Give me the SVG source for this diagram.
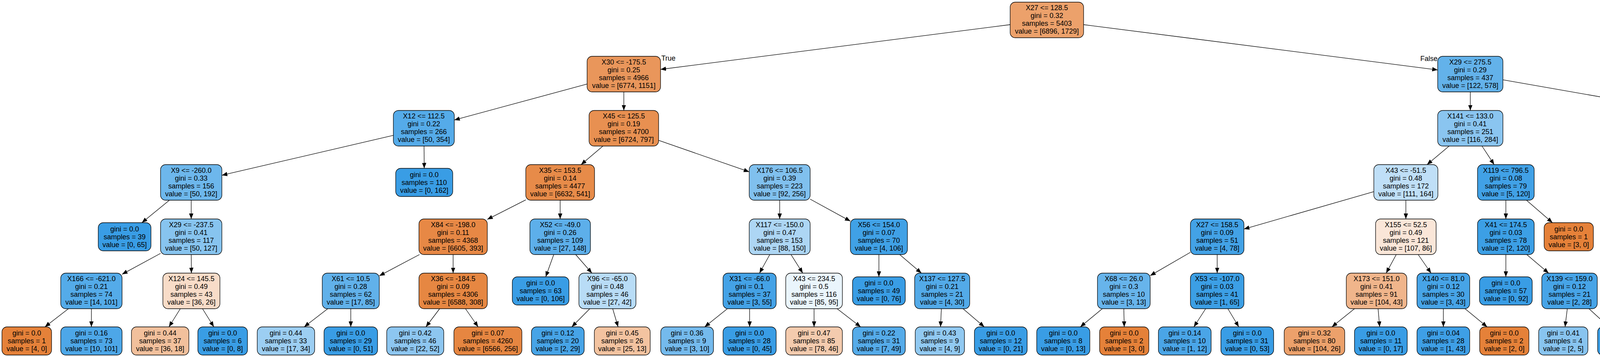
<svg xmlns="http://www.w3.org/2000/svg" width="5017" height="913" viewBox="0 0 5017 913">
<style>
.n rect{stroke:#000;stroke-width:1.3}
.t{font-family:"Liberation Sans",Arial,Helvetica,sans-serif;font-size:18px;text-anchor:middle;fill:#000}
.lbl{font-family:"Liberation Sans",Arial,Helvetica,sans-serif;font-size:18px;fill:#000}
#edges line{stroke:#000;stroke-width:1.3;fill:none}
</style>
<defs>
<marker id="arr" markerUnits="userSpaceOnUse" markerWidth="14" markerHeight="11" refX="14" refY="5.5" orient="auto"><path d="M0,0 L14,5.5 L0,11 z" fill="#000"/></marker>
</defs>
<rect width="5017" height="913" fill="#fff"/>
<g id="edges" marker-end="url(#arr)">
<line x1="2586" y1="63" x2="1691" y2="177.5"/>
<line x1="2774" y1="63" x2="3680.5" y2="178.8"/>
<line x1="1503" y1="214.9" x2="1163" y2="306.9"/>
<line x1="1597" y1="235" x2="1597" y2="282.5"/>
<line x1="1007" y1="346.1" x2="568" y2="448.2"/>
<line x1="1085.5" y1="373.5" x2="1086" y2="430.5"/>
<line x1="1543.5" y1="373.5" x2="1487.5" y2="421"/>
<line x1="1686" y1="358.9" x2="1918" y2="439.4"/>
<line x1="433.7" y1="512" x2="363.2" y2="569.5"/>
<line x1="489.5" y1="512" x2="489.5" y2="560"/>
<line x1="411" y1="648" x2="312.5" y2="701.4"/>
<line x1="489.5" y1="651" x2="490" y2="698.5"/>
<line x1="175.2" y1="789.5" x2="115" y2="836"/>
<line x1="234" y1="789.5" x2="234" y2="836"/>
<line x1="461.6" y1="789.5" x2="432.5" y2="836"/>
<line x1="518.4" y1="789.5" x2="547.5" y2="836"/>
<line x1="1346" y1="511.1" x2="1247.5" y2="561.1"/>
<line x1="1434" y1="512" x2="1434" y2="560"/>
<line x1="1073.9" y1="651" x2="971" y2="705.4"/>
<line x1="1160" y1="651" x2="1160" y2="698.5"/>
<line x1="1417.6" y1="651" x2="1397" y2="708"/>
<line x1="1473.7" y1="651" x2="1515.3" y2="698.5"/>
<line x1="839" y1="789.5" x2="778.7" y2="836"/>
<line x1="898" y1="789.5" x2="898" y2="836"/>
<line x1="1125.5" y1="789.5" x2="1090.3" y2="836"/>
<line x1="1191.6" y1="789.5" x2="1224" y2="836"/>
<line x1="1509.9" y1="789.5" x2="1463.7" y2="836"/>
<line x1="1568.5" y1="789.5" x2="1582.3" y2="836"/>
<line x1="1996" y1="512" x2="1996" y2="560"/>
<line x1="2074" y1="509.2" x2="2177" y2="565.6"/>
<line x1="1970.7" y1="651" x2="1944.3" y2="698.5"/>
<line x1="2024.9" y1="651" x2="2055.1" y2="698.5"/>
<line x1="2250" y1="651" x2="2250" y2="708"/>
<line x1="2303.2" y1="651" x2="2358.8" y2="698.5"/>
<line x1="1862.1" y1="789.5" x2="1804" y2="836"/>
<line x1="1919" y1="789.5" x2="1919" y2="836"/>
<line x1="2084" y1="789.5" x2="2084" y2="836"/>
<line x1="2143" y1="789.5" x2="2203.3" y2="836"/>
<line x1="2409.9" y1="789.5" x2="2407.7" y2="836"/>
<line x1="2465.3" y1="789.5" x2="2519.8" y2="836"/>
<line x1="3764" y1="235" x2="3764" y2="282.5"/>
<line x1="3847.5" y1="204.1" x2="4481.5" y2="315.1"/>
<line x1="3709.8" y1="373.5" x2="3653.2" y2="421"/>
<line x1="3793.9" y1="373.5" x2="3825.1" y2="421"/>
<line x1="3517" y1="490.1" x2="3184.5" y2="585.8"/>
<line x1="3599" y1="512" x2="3599" y2="560"/>
<line x1="3047.5" y1="645.2" x2="2944.5" y2="704.9"/>
<line x1="3116" y1="651" x2="3116" y2="698.5"/>
<line x1="2821.9" y1="789.5" x2="2765.6" y2="836"/>
<line x1="2877" y1="789.5" x2="2878" y2="836"/>
<line x1="3086.5" y1="789.5" x2="3056.3" y2="836"/>
<line x1="3143.4" y1="789.5" x2="3171.3" y2="836"/>
<line x1="3574.4" y1="651" x2="3548.6" y2="698.5"/>
<line x1="3630.5" y1="651" x2="3663.5" y2="698.5"/>
<line x1="3467.5" y1="789.5" x2="3409.7" y2="836"/>
<line x1="3527.9" y1="789.5" x2="3531.9" y2="836"/>
<line x1="3695" y1="789.5" x2="3695" y2="836"/>
<line x1="3750.5" y1="789.5" x2="3807.1" y2="836"/>
<line x1="3855" y1="512" x2="3855" y2="560"/>
<line x1="3907.7" y1="512" x2="3974.3" y2="569.5"/>
<line x1="3855" y1="651" x2="3855" y2="708"/>
<line x1="3908.5" y1="651" x2="3964.5" y2="698.5"/>
<line x1="4012.3" y1="789.5" x2="4006.5" y2="836"/>
<line x1="4067.8" y1="789.5" x2="4118.6" y2="836"/>
<line x1="4555" y1="373.5" x2="4555" y2="421"/>
<line x1="4628.5" y1="369.9" x2="4733" y2="429.5"/>
<line x1="4529.5" y1="512" x2="4502.5" y2="560"/>
<line x1="4583.5" y1="512" x2="4613.5" y2="560"/>
<line x1="4798" y1="512" x2="4798" y2="569.5"/>
<line x1="4847.4" y1="512" x2="4909.9" y2="569.5"/>
<line x1="4423.5" y1="651" x2="4367.5" y2="698.5"/>
<line x1="4478.3" y1="651" x2="4480" y2="708"/>
<line x1="4642" y1="651" x2="4642" y2="708"/>
<line x1="4693.2" y1="651" x2="4746.8" y2="698.5"/>
<line x1="4314" y1="789.5" x2="4314" y2="836"/>
<line x1="4369.5" y1="789.5" x2="4426.1" y2="836"/>
<line x1="4770.3" y1="789.5" x2="4741.9" y2="836"/>
<line x1="4825.7" y1="789.5" x2="4854.1" y2="836"/>
</g>
<text class="lbl" x="1693" y="155">True</text>
<text class="lbl" x="3680" y="156" text-anchor="end">False</text>

<g id="n0" class="n"><rect x="2586" y="5.5" width="188" height="91" rx="13" fill="#eca16b"/><text class="t" x="2680" y="26">X27 &lt;= 128.5<tspan x="2680" dy="20">gini = 0.32</tspan><tspan x="2680" dy="20">samples = 5403</tspan><tspan x="2680" dy="20">value = [6896, 1729]</tspan></text></g>
<g id="n1" class="n"><rect x="1503" y="144" width="188" height="91" rx="13" fill="#e9965b"/><text class="t" x="1597" y="164.5">X30 &lt;= -175.5<tspan x="1597" dy="20">gini = 0.25</tspan><tspan x="1597" dy="20">samples = 4966</tspan><tspan x="1597" dy="20">value = [6774, 1151]</tspan></text></g>
<g id="n2" class="n"><rect x="3680.5" y="144" width="167" height="91" rx="13" fill="#63b2ea"/><text class="t" x="3764" y="164.5">X29 &lt;= 275.5<tspan x="3764" dy="20">gini = 0.29</tspan><tspan x="3764" dy="20">samples = 437</tspan><tspan x="3764" dy="20">value = [122, 578]</tspan></text></g>
<g id="n3" class="n"><rect x="1007" y="282.5" width="156" height="91" rx="13" fill="#55abe9"/><text class="t" x="1085" y="303">X12 &lt;= 112.5<tspan x="1085" dy="20">gini = 0.22</tspan><tspan x="1085" dy="20">samples = 266</tspan><tspan x="1085" dy="20">value = [50, 354]</tspan></text></g>
<g id="n4" class="n"><rect x="1508" y="282.5" width="178" height="91" rx="13" fill="#e89051"/><text class="t" x="1597" y="303">X45 &lt;= 125.5<tspan x="1597" dy="20">gini = 0.19</tspan><tspan x="1597" dy="20">samples = 4700</tspan><tspan x="1597" dy="20">value = [6724, 797]</tspan></text></g>
<g id="n25" class="n"><rect x="3680.5" y="282.5" width="167" height="91" rx="13" fill="#8ac5f0"/><text class="t" x="3764" y="303">X141 &lt;= 133.0<tspan x="3764" dy="20">gini = 0.41</tspan><tspan x="3764" dy="20">samples = 251</tspan><tspan x="3764" dy="20">value = [116, 284]</tspan></text></g>
<g id="n26" class="n"><rect x="4481.5" y="282.5" width="147" height="91" rx="13" fill="#3d9fe6"/><text class="t" x="4555" y="303">X19 &lt;= 918.5<tspan x="4555" dy="20">gini = 0.04</tspan><tspan x="4555" dy="20">samples = 186</tspan><tspan x="4555" dy="20">value = [6, 294]</tspan></text></g>
<g id="n5" class="n"><rect x="411" y="421" width="157" height="91" rx="13" fill="#6db7ec"/><text class="t" x="489.5" y="441.5">X9 &lt;= -260.0<tspan x="489.5" dy="20">gini = 0.33</tspan><tspan x="489.5" dy="20">samples = 156</tspan><tspan x="489.5" dy="20">value = [50, 192]</tspan></text></g>
<g id="n6" class="n"><rect x="1013" y="430.5" width="146" height="72" rx="13" fill="#399de5"/><text class="t" x="1086" y="452.5">gini = 0.0<tspan x="1086" dy="20">samples = 110</tspan><tspan x="1086" dy="20">value = [0, 162]</tspan></text></g>
<g id="n7" class="n"><rect x="1346" y="421" width="176" height="91" rx="13" fill="#e78b49"/><text class="t" x="1434" y="441.5">X35 &lt;= 153.5<tspan x="1434" dy="20">gini = 0.14</tspan><tspan x="1434" dy="20">samples = 4477</tspan><tspan x="1434" dy="20">value = [6632, 541]</tspan></text></g>
<g id="n8" class="n"><rect x="1918" y="421" width="156" height="91" rx="13" fill="#80c0ee"/><text class="t" x="1996" y="441.5">X176 &lt;= 106.5<tspan x="1996" dy="20">gini = 0.39</tspan><tspan x="1996" dy="20">samples = 223</tspan><tspan x="1996" dy="20">value = [92, 256]</tspan></text></g>
<g id="n27" class="n"><rect x="3517" y="421" width="164" height="91" rx="13" fill="#bfdff7"/><text class="t" x="3599" y="441.5">X43 &lt;= -51.5<tspan x="3599" dy="20">gini = 0.48</tspan><tspan x="3599" dy="20">samples = 172</tspan><tspan x="3599" dy="20">value = [111, 164]</tspan></text></g>
<g id="n28" class="n"><rect x="3782.5" y="421" width="145" height="91" rx="13" fill="#41a1e6"/><text class="t" x="3855" y="441.5">X119 &lt;= 796.5<tspan x="3855" dy="20">gini = 0.08</tspan><tspan x="3855" dy="20">samples = 79</tspan><tspan x="3855" dy="20">value = [5, 120]</tspan></text></g>
<g id="n29" class="n"><rect x="4481.5" y="421" width="147" height="91" rx="13" fill="#3c9fe5"/><text class="t" x="4555" y="441.5">X22 &lt;= 467.5<tspan x="4555" dy="20">gini = 0.03</tspan><tspan x="4555" dy="20">samples = 184</tspan><tspan x="4555" dy="20">value = [5, 293]</tspan></text></g>
<g id="n30" class="n"><rect x="4733" y="421" width="130" height="91" rx="13" fill="#ffffff"/><text class="t" x="4798" y="441.5">X17 &lt;= 933.0<tspan x="4798" dy="20">gini = 0.5</tspan><tspan x="4798" dy="20">samples = 2</tspan><tspan x="4798" dy="20">value = [1, 1]</tspan></text></g>
<g id="n9" class="n"><rect x="251.5" y="569.5" width="135" height="72" rx="13" fill="#399de5"/><text class="t" x="319" y="591.5">gini = 0.0<tspan x="319" dy="20">samples = 39</tspan><tspan x="319" dy="20">value = [0, 65]</tspan></text></g>
<g id="n10" class="n"><rect x="411" y="560" width="157" height="91" rx="13" fill="#87c4ef"/><text class="t" x="489.5" y="580.5">X29 &lt;= -237.5<tspan x="489.5" dy="20">gini = 0.41</tspan><tspan x="489.5" dy="20">samples = 117</tspan><tspan x="489.5" dy="20">value = [50, 127]</tspan></text></g>
<g id="n11" class="n"><rect x="1072.5" y="560" width="175" height="91" rx="13" fill="#e78845"/><text class="t" x="1160" y="580.5">X84 &lt;= -198.0<tspan x="1160" dy="20">gini = 0.11</tspan><tspan x="1160" dy="20">samples = 4368</tspan><tspan x="1160" dy="20">value = [6605, 393]</tspan></text></g>
<g id="n12" class="n"><rect x="1356.5" y="560" width="155" height="91" rx="13" fill="#5dafea"/><text class="t" x="1434" y="580.5">X52 &lt;= -49.0<tspan x="1434" dy="20">gini = 0.26</tspan><tspan x="1434" dy="20">samples = 109</tspan><tspan x="1434" dy="20">value = [27, 148]</tspan></text></g>
<g id="n13" class="n"><rect x="1918" y="560" width="156" height="91" rx="13" fill="#add6f4"/><text class="t" x="1996" y="580.5">X117 &lt;= -150.0<tspan x="1996" dy="20">gini = 0.47</tspan><tspan x="1996" dy="20">samples = 153</tspan><tspan x="1996" dy="20">value = [88, 150]</tspan></text></g>
<g id="n14" class="n"><rect x="2177" y="560" width="146" height="91" rx="13" fill="#40a1e6"/><text class="t" x="2250" y="580.5">X56 &lt;= 154.0<tspan x="2250" dy="20">gini = 0.07</tspan><tspan x="2250" dy="20">samples = 70</tspan><tspan x="2250" dy="20">value = [4, 106]</tspan></text></g>
<g id="n31" class="n"><rect x="3047.5" y="560" width="137" height="91" rx="13" fill="#43a2e6"/><text class="t" x="3116" y="580.5">X27 &lt;= 158.5<tspan x="3116" dy="20">gini = 0.09</tspan><tspan x="3116" dy="20">samples = 51</tspan><tspan x="3116" dy="20">value = [4, 78]</tspan></text></g>
<g id="n32" class="n"><rect x="3521.5" y="560" width="155" height="91" rx="13" fill="#fae6d8"/><text class="t" x="3599" y="580.5">X155 &lt;= 52.5<tspan x="3599" dy="20">gini = 0.49</tspan><tspan x="3599" dy="20">samples = 121</tspan><tspan x="3599" dy="20">value = [107, 86]</tspan></text></g>
<g id="n33" class="n"><rect x="3782.5" y="560" width="145" height="91" rx="13" fill="#3c9fe5"/><text class="t" x="3855" y="580.5">X41 &lt;= 174.5<tspan x="3855" dy="20">gini = 0.03</tspan><tspan x="3855" dy="20">samples = 78</tspan><tspan x="3855" dy="20">value = [2, 120]</tspan></text></g>
<g id="n34" class="n"><rect x="3953" y="569.5" width="126" height="72" rx="13" fill="#e58139"/><text class="t" x="4016" y="591.5">gini = 0.0<tspan x="4016" dy="20">samples = 1</tspan><tspan x="4016" dy="20">value = [3, 0]</tspan></text></g>
<g id="n35" class="n"><rect x="4404" y="560" width="146" height="91" rx="13" fill="#3a9de5"/><text class="t" x="4477" y="580.5">X5 &lt;= -391.0<tspan x="4477" dy="20">gini = 0.01</tspan><tspan x="4477" dy="20">samples = 158</tspan><tspan x="4477" dy="20">value = [1, 257]</tspan></text></g>
<g id="n36" class="n"><rect x="4574" y="560" width="136" height="91" rx="13" fill="#4fa8e8"/><text class="t" x="4642" y="580.5">X23 &lt;= 467.0<tspan x="4642" dy="20">gini = 0.18</tspan><tspan x="4642" dy="20">samples = 26</tspan><tspan x="4642" dy="20">value = [4, 36]</tspan></text></g>
<g id="n37" class="n"><rect x="4735" y="569.5" width="126" height="72" rx="13" fill="#399de5"/><text class="t" x="4798" y="591.5">gini = 0.0<tspan x="4798" dy="20">samples = 1</tspan><tspan x="4798" dy="20">value = [0, 1]</tspan></text></g>
<g id="n38" class="n"><rect x="4886" y="569.5" width="126" height="72" rx="13" fill="#e58139"/><text class="t" x="4949" y="591.5">gini = 0.0<tspan x="4949" dy="20">samples = 1</tspan><tspan x="4949" dy="20">value = [1, 0]</tspan></text></g>
<g id="n15" class="n"><rect x="155.5" y="698.5" width="157" height="91" rx="13" fill="#54abe9"/><text class="t" x="234" y="719">X166 &lt;= -621.0<tspan x="234" dy="20">gini = 0.21</tspan><tspan x="234" dy="20">samples = 74</tspan><tspan x="234" dy="20">value = [14, 101]</tspan></text></g>
<g id="n16" class="n"><rect x="417" y="698.5" width="146" height="91" rx="13" fill="#f8dcc8"/><text class="t" x="490" y="719">X124 &lt;= 145.5<tspan x="490" dy="20">gini = 0.49</tspan><tspan x="490" dy="20">samples = 43</tspan><tspan x="490" dy="20">value = [36, 26]</tspan></text></g>
<g id="n17" class="n"><rect x="825" y="698.5" width="146" height="91" rx="13" fill="#61b1ea"/><text class="t" x="898" y="719">X61 &lt;= 10.5<tspan x="898" dy="20">gini = 0.28</tspan><tspan x="898" dy="20">samples = 62</tspan><tspan x="898" dy="20">value = [17, 85]</tspan></text></g>
<g id="n18" class="n"><rect x="1072.5" y="698.5" width="175" height="91" rx="13" fill="#e68742"/><text class="t" x="1160" y="719">X36 &lt;= -184.5<tspan x="1160" dy="20">gini = 0.09</tspan><tspan x="1160" dy="20">samples = 4306</tspan><tspan x="1160" dy="20">value = [6588, 308]</tspan></text></g>
<g id="n19" class="n"><rect x="1311.5" y="708" width="145" height="72" rx="13" fill="#399de5"/><text class="t" x="1384" y="730">gini = 0.0<tspan x="1384" dy="20">samples = 63</tspan><tspan x="1384" dy="20">value = [0, 106]</tspan></text></g>
<g id="n20" class="n"><rect x="1482" y="698.5" width="146" height="91" rx="13" fill="#b8dcf6"/><text class="t" x="1555" y="719">X96 &lt;= -65.0<tspan x="1555" dy="20">gini = 0.48</tspan><tspan x="1555" dy="20">samples = 46</tspan><tspan x="1555" dy="20">value = [27, 42]</tspan></text></g>
<g id="n21" class="n"><rect x="1851" y="698.5" width="136" height="91" rx="13" fill="#44a2e6"/><text class="t" x="1919" y="719">X31 &lt;= -66.0<tspan x="1919" dy="20">gini = 0.1</tspan><tspan x="1919" dy="20">samples = 37</tspan><tspan x="1919" dy="20">value = [3, 55]</tspan></text></g>
<g id="n22" class="n"><rect x="2011.5" y="698.5" width="145" height="91" rx="13" fill="#eaf5fc"/><text class="t" x="2084" y="719">X43 &lt;= 234.5<tspan x="2084" dy="20">gini = 0.5</tspan><tspan x="2084" dy="20">samples = 116</tspan><tspan x="2084" dy="20">value = [85, 95]</tspan></text></g>
<g id="n23" class="n"><rect x="2182.5" y="708" width="135" height="72" rx="13" fill="#399de5"/><text class="t" x="2250" y="730">gini = 0.0<tspan x="2250" dy="20">samples = 49</tspan><tspan x="2250" dy="20">value = [0, 76]</tspan></text></g>
<g id="n24" class="n"><rect x="2341.5" y="698.5" width="141" height="91" rx="13" fill="#53aae8"/><text class="t" x="2412" y="719">X137 &lt;= 127.5<tspan x="2412" dy="20">gini = 0.21</tspan><tspan x="2412" dy="20">samples = 21</tspan><tspan x="2412" dy="20">value = [4, 30]</tspan></text></g>
<g id="n39" class="n"><rect x="2809.5" y="698.5" width="135" height="91" rx="13" fill="#67b4eb"/><text class="t" x="2877" y="719">X68 &lt;= 26.0<tspan x="2877" dy="20">gini = 0.3</tspan><tspan x="2877" dy="20">samples = 10</tspan><tspan x="2877" dy="20">value = [3, 13]</tspan></text></g>
<g id="n40" class="n"><rect x="3047.5" y="698.5" width="137" height="91" rx="13" fill="#3c9fe5"/><text class="t" x="3116" y="719">X53 &lt;= -107.0<tspan x="3116" dy="20">gini = 0.03</tspan><tspan x="3116" dy="20">samples = 41</tspan><tspan x="3116" dy="20">value = [1, 65]</tspan></text></g>
<g id="n41" class="n"><rect x="3446.5" y="698.5" width="155" height="91" rx="13" fill="#f0b58b"/><text class="t" x="3524" y="719">X173 &lt;= 151.0<tspan x="3524" dy="20">gini = 0.41</tspan><tspan x="3524" dy="20">samples = 91</tspan><tspan x="3524" dy="20">value = [104, 43]</tspan></text></g>
<g id="n42" class="n"><rect x="3627.5" y="698.5" width="135" height="91" rx="13" fill="#47a4e7"/><text class="t" x="3695" y="719">X140 &lt;= 81.0<tspan x="3695" dy="20">gini = 0.12</tspan><tspan x="3695" dy="20">samples = 30</tspan><tspan x="3695" dy="20">value = [3, 43]</tspan></text></g>
<g id="n43" class="n"><rect x="3787.5" y="708" width="135" height="72" rx="13" fill="#399de5"/><text class="t" x="3855" y="730">gini = 0.0<tspan x="3855" dy="20">samples = 57</tspan><tspan x="3855" dy="20">value = [0, 92]</tspan></text></g>
<g id="n44" class="n"><rect x="3947" y="698.5" width="142" height="91" rx="13" fill="#47a4e7"/><text class="t" x="4018" y="719">X139 &lt;= 159.0<tspan x="4018" dy="20">gini = 0.12</tspan><tspan x="4018" dy="20">samples = 21</tspan><tspan x="4018" dy="20">value = [2, 28]</tspan></text></g>
<g id="n45" class="n"><rect x="4245.5" y="698.5" width="137" height="91" rx="13" fill="#40a0e6"/><text class="t" x="4314" y="719">X95 &lt;= -107.5<tspan x="4314" dy="20">gini = 0.07</tspan><tspan x="4314" dy="20">samples = 18</tspan><tspan x="4314" dy="20">value = [1, 28]</tspan></text></g>
<g id="n46" class="n"><rect x="4408.5" y="708" width="145" height="72" rx="13" fill="#399de5"/><text class="t" x="4481" y="730">gini = 0.0<tspan x="4481" dy="20">samples = 140</tspan><tspan x="4481" dy="20">value = [0, 229]</tspan></text></g>
<g id="n47" class="n"><rect x="4578.5" y="708" width="127" height="72" rx="13" fill="#e58139"/><text class="t" x="4642" y="730">gini = 0.0<tspan x="4642" dy="20">samples = 1</tspan><tspan x="4642" dy="20">value = [2, 0]</tspan></text></g>
<g id="n48" class="n"><rect x="4730.5" y="698.5" width="135" height="91" rx="13" fill="#44a2e6"/><text class="t" x="4798" y="719">X32 &lt;= 724.0<tspan x="4798" dy="20">gini = 0.1</tspan><tspan x="4798" dy="20">samples = 25</tspan><tspan x="4798" dy="20">value = [2, 36]</tspan></text></g>

<g id="l1" class="n"><rect x="5" y="836" width="127" height="72" rx="13" fill="#e58139"/><text class="t" x="68.5" y="858">gini = 0.0<tspan x="68.5" dy="20">samples = 1</tspan><tspan x="68.5" dy="20">value = [4, 0]</tspan></text></g>
<g id="l2" class="n"><rect x="155.5" y="836" width="157" height="72" rx="13" fill="#4da7e8"/><text class="t" x="234" y="858">gini = 0.16<tspan x="234" dy="20">samples = 73</tspan><tspan x="234" dy="20">value = [10, 101]</tspan></text></g>
<g id="l3" class="n"><rect x="336.5" y="836" width="147" height="72" rx="13" fill="#f2c09c"/><text class="t" x="410" y="858">gini = 0.44<tspan x="410" dy="20">samples = 37</tspan><tspan x="410" dy="20">value = [36, 18]</tspan></text></g>
<g id="l4" class="n"><rect x="506.5" y="836" width="127" height="72" rx="13" fill="#399de5"/><text class="t" x="570" y="858">gini = 0.0<tspan x="570" dy="20">samples = 6</tspan><tspan x="570" dy="20">value = [0, 8]</tspan></text></g>
<g id="l5" class="n"><rect x="658.5" y="836" width="147" height="72" rx="13" fill="#9ccef2"/><text class="t" x="732" y="858">gini = 0.44<tspan x="732" dy="20">samples = 33</tspan><tspan x="732" dy="20">value = [17, 34]</tspan></text></g>
<g id="l6" class="n"><rect x="829.5" y="836" width="137" height="72" rx="13" fill="#399de5"/><text class="t" x="898" y="858">gini = 0.0<tspan x="898" dy="20">samples = 29</tspan><tspan x="898" dy="20">value = [0, 51]</tspan></text></g>
<g id="l7" class="n"><rect x="990" y="836" width="146" height="72" rx="13" fill="#8dc6f0"/><text class="t" x="1063" y="858">gini = 0.42<tspan x="1063" dy="20">samples = 46</tspan><tspan x="1063" dy="20">value = [22, 52]</tspan></text></g>
<g id="l8" class="n"><rect x="1162" y="836" width="174" height="72" rx="13" fill="#e68641"/><text class="t" x="1249" y="858">gini = 0.07<tspan x="1249" dy="20">samples = 4260</tspan><tspan x="1249" dy="20">value = [6566, 256]</tspan></text></g>
<g id="l9" class="n"><rect x="1360.5" y="836" width="135" height="72" rx="13" fill="#47a4e7"/><text class="t" x="1428" y="858">gini = 0.12<tspan x="1428" dy="20">samples = 20</tspan><tspan x="1428" dy="20">value = [2, 29]</tspan></text></g>
<g id="l10" class="n"><rect x="1521.5" y="836" width="143" height="72" rx="13" fill="#f3c3a0"/><text class="t" x="1593" y="858">gini = 0.45<tspan x="1593" dy="20">samples = 26</tspan><tspan x="1593" dy="20">value = [25, 13]</tspan></text></g>
<g id="l11" class="n"><rect x="1691.5" y="836" width="135" height="72" rx="13" fill="#74baed"/><text class="t" x="1759" y="858">gini = 0.36<tspan x="1759" dy="20">samples = 9</tspan><tspan x="1759" dy="20">value = [3, 10]</tspan></text></g>
<g id="l12" class="n"><rect x="1851" y="836" width="136" height="72" rx="13" fill="#399de5"/><text class="t" x="1919" y="858">gini = 0.0<tspan x="1919" dy="20">samples = 28</tspan><tspan x="1919" dy="20">value = [0, 45]</tspan></text></g>
<g id="l13" class="n"><rect x="2011.5" y="836" width="145" height="72" rx="13" fill="#f4cbae"/><text class="t" x="2084" y="858">gini = 0.47<tspan x="2084" dy="20">samples = 85</tspan><tspan x="2084" dy="20">value = [78, 46]</tspan></text></g>
<g id="l14" class="n"><rect x="2182.5" y="836" width="135" height="72" rx="13" fill="#55abe9"/><text class="t" x="2250" y="858">gini = 0.22<tspan x="2250" dy="20">samples = 31</tspan><tspan x="2250" dy="20">value = [7, 49]</tspan></text></g>
<g id="l15" class="n"><rect x="2343" y="836" width="126" height="72" rx="13" fill="#91c9f1"/><text class="t" x="2406" y="858">gini = 0.43<tspan x="2406" dy="20">samples = 9</tspan><tspan x="2406" dy="20">value = [4, 9]</tspan></text></g>
<g id="l16" class="n"><rect x="2494.5" y="836" width="135" height="72" rx="13" fill="#399de5"/><text class="t" x="2562" y="858">gini = 0.0<tspan x="2562" dy="20">samples = 12</tspan><tspan x="2562" dy="20">value = [0, 21]</tspan></text></g>
<g id="l17" class="n"><rect x="2654" y="836" width="136" height="72" rx="13" fill="#399de5"/><text class="t" x="2722" y="858">gini = 0.0<tspan x="2722" dy="20">samples = 8</tspan><tspan x="2722" dy="20">value = [0, 13]</tspan></text></g>
<g id="l18" class="n"><rect x="2815" y="836" width="126" height="72" rx="13" fill="#e58139"/><text class="t" x="2878" y="858">gini = 0.0<tspan x="2878" dy="20">samples = 2</tspan><tspan x="2878" dy="20">value = [3, 0]</tspan></text></g>
<g id="l19" class="n"><rect x="2965.5" y="836" width="135" height="72" rx="13" fill="#4aa5e7"/><text class="t" x="3033" y="858">gini = 0.14<tspan x="3033" dy="20">samples = 10</tspan><tspan x="3033" dy="20">value = [1, 12]</tspan></text></g>
<g id="l20" class="n"><rect x="3125.5" y="836" width="135" height="72" rx="13" fill="#399de5"/><text class="t" x="3193" y="858">gini = 0.0<tspan x="3193" dy="20">samples = 31</tspan><tspan x="3193" dy="20">value = [0, 53]</tspan></text></g>
<g id="l21" class="n"><rect x="3287.5" y="836" width="155" height="72" rx="13" fill="#eca16b"/><text class="t" x="3365" y="858">gini = 0.32<tspan x="3365" dy="20">samples = 80</tspan><tspan x="3365" dy="20">value = [104, 26]</tspan></text></g>
<g id="l22" class="n"><rect x="3467.5" y="836" width="135" height="72" rx="13" fill="#399de5"/><text class="t" x="3535" y="858">gini = 0.0<tspan x="3535" dy="20">samples = 11</tspan><tspan x="3535" dy="20">value = [0, 17]</tspan></text></g>
<g id="l23" class="n"><rect x="3627.5" y="836" width="135" height="72" rx="13" fill="#3e9fe6"/><text class="t" x="3695" y="858">gini = 0.04<tspan x="3695" dy="20">samples = 28</tspan><tspan x="3695" dy="20">value = [1, 43]</tspan></text></g>
<g id="l24" class="n"><rect x="3788" y="836" width="126" height="72" rx="13" fill="#e58139"/><text class="t" x="3851" y="858">gini = 0.0<tspan x="3851" dy="20">samples = 2</tspan><tspan x="3851" dy="20">value = [2, 0]</tspan></text></g>
<g id="l25" class="n"><rect x="3939" y="836" width="126" height="72" rx="13" fill="#88c4ef"/><text class="t" x="4002" y="858">gini = 0.41<tspan x="4002" dy="20">samples = 4</tspan><tspan x="4002" dy="20">value = [2, 5]</tspan></text></g>
<g id="l26" class="n"><rect x="4090" y="836" width="136" height="72" rx="13" fill="#399de5"/><text class="t" x="4158" y="858">gini = 0.0<tspan x="4158" dy="20">samples = 17</tspan><tspan x="4158" dy="20">value = [0, 23]</tspan></text></g>
<g id="l27" class="n"><rect x="4251.5" y="836" width="125" height="72" rx="13" fill="#9ccef2"/><text class="t" x="4314" y="858">gini = 0.44<tspan x="4314" dy="20">samples = 3</tspan><tspan x="4314" dy="20">value = [1, 2]</tspan></text></g>
<g id="l28" class="n"><rect x="4402.5" y="836" width="135" height="72" rx="13" fill="#399de5"/><text class="t" x="4470" y="858">gini = 0.0<tspan x="4470" dy="20">samples = 15</tspan><tspan x="4470" dy="20">value = [0, 26]</tspan></text></g>
<g id="l29" class="n"><rect x="4653" y="836" width="134" height="72" rx="13" fill="#399de5"/><text class="t" x="4720" y="858">gini = 0.0<tspan x="4720" dy="20">samples = 23</tspan><tspan x="4720" dy="20">value = [0, 36]</tspan></text></g>
<g id="l30" class="n"><rect x="4813.5" y="836" width="125" height="72" rx="13" fill="#e58139"/><text class="t" x="4876" y="858">gini = 0.0<tspan x="4876" dy="20">samples = 2</tspan><tspan x="4876" dy="20">value = [2, 0]</tspan></text></g>
</svg>
